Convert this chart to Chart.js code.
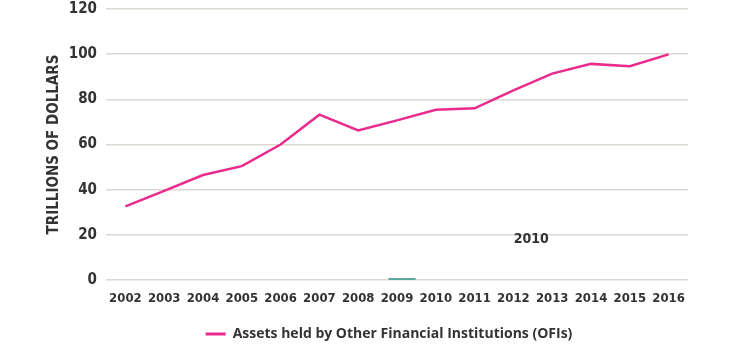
<!DOCTYPE html>
<html>
<head>
<meta charset="utf-8">
<script src="https://cdn.jsdelivr.net/npm/chart.js@4"></script>
<style>
  html, body { margin: 0; padding: 0; background: #fff; }
  #wrap { width: 731px; height: 345px; }
</style>
</head>
<body>
<div id="wrap"><canvas id="chartOfi"></canvas></div>
<script>
// Anos e valores (trilhões de dólares)
const years = ["2002", "2003", "2004", "2005", "2006", "2007", "2008", "2009",
  "2010", "2011", "2012", "2013", "2014", "2015", "2016"];
const ofiAssets = [32.6, 39.5, 46.5, 50.4, 60, 73.2, 66.2, 70.7, 75.4, 76, 84, 91.4, 95.7, 94.7, 99.9];
const yTicks = [0, 20, 40, 60, 80, 100, 120];

const PINK = "#ea2a8d";
const DARK = "#333333";
const CONDENSED = "'Liberation Sans Narrow', 'DejaVu Sans Condensed', 'Open Sans', sans-serif";

// texto solto "2010" e o traço verde que aparecem no original
const strayMarks = {
  id: "strayMarks",
  afterLayout(chart) {
    // legenda um pouco à esquerda do centro da área
    if (chart.legend) {
      chart.legend.left -= 8;
      chart.legend.right -= 8;
    }
  },
  afterDatasetsDraw(chart) {
    const { ctx, scales } = chart;
    const x = scales.x, y = scales.y;
    ctx.save();
    ctx.strokeStyle = "#5aa79e";
    ctx.lineWidth = 2;
    ctx.beginPath();
    ctx.moveTo(x.getPixelForValue(6.78), y.getPixelForValue(0) - 1);
    ctx.lineTo(x.getPixelForValue(7.48), y.getPixelForValue(0) - 1);
    ctx.stroke();
    ctx.fillStyle = DARK;
    ctx.font = "bold 14px " + CONDENSED;
    ctx.textAlign = "center";
    ctx.textBaseline = "middle";
    ctx.fillText("2010", x.getPixelForValue(10.46), y.getPixelForValue(17.8));
    ctx.restore();
  },
};

new Chart(document.getElementById("chartOfi"), {
  type: "line",
  data: {
    labels: years,
    datasets: [
      {
        label: "Assets held by Other Financial Institutions (OFIs)",
        data: ofiAssets,
        borderColor: PINK,
        backgroundColor: PINK,
        borderWidth: 2.5,
        pointRadius: 0,
        tension: 0,
      },
    ],
  },
  options: {
    responsive: true,
    maintainAspectRatio: false,
    animation: false,
    layout: { padding: { top: 0, right: 43, left: 45, bottom: -6 } },
    plugins: {
      tooltip: { enabled: false },
      legend: {
        position: "bottom",
        fullSize: false,
        labels: {
          boxWidth: 20,
          boxHeight: 3,
          padding: 1,
          color: DARK,
          font: { family: "'Open Sans', sans-serif", size: 14, weight: "bold" },
          generateLabels(chart) {
            // caixa da legenda como traço fino, sem contorno
            return Chart.defaults.plugins.legend.labels
              .generateLabels(chart)
              .map((item) => ({ ...item, lineWidth: 0 }));
          },
        },
      },
    },
    scales: {
      x: {
        offset: true,
        grid: { display: false },
        border: { display: false },
        ticks: {
          color: DARK,
          maxRotation: 0,
          autoSkip: false,
          padding: 3,
          font: { family: CONDENSED, size: 13, weight: "bold" },
        },
        afterFit(scale) { scale.height = 46; },
      },
      y: {
        min: 0,
        max: 120,
        afterBuildTicks(scale) { scale.ticks = yTicks.map((v) => ({ value: v })); },
        grid: { color: "#ddd8d2", lineWidth: 1.5, drawTicks: false },
        border: { display: false },
        ticks: {
          color: DARK,
          padding: 9,
          font: { family: CONDENSED, size: 15, weight: "bold" },
        },
        title: {
          display: true,
          text: "TRILLIONS OF DOLLARS",
          color: DARK,
          padding: { top: 0, bottom: 0 },
          font: { family: CONDENSED, size: 15, weight: "bold" },
        },
        afterFit(scale) {
          scale.width = 61;
          scale.paddingTop = 9;
          scale.paddingBottom = 0;
        },
      },
    },
  },
  plugins: [strayMarks],
});
</script>
</body>
</html>
